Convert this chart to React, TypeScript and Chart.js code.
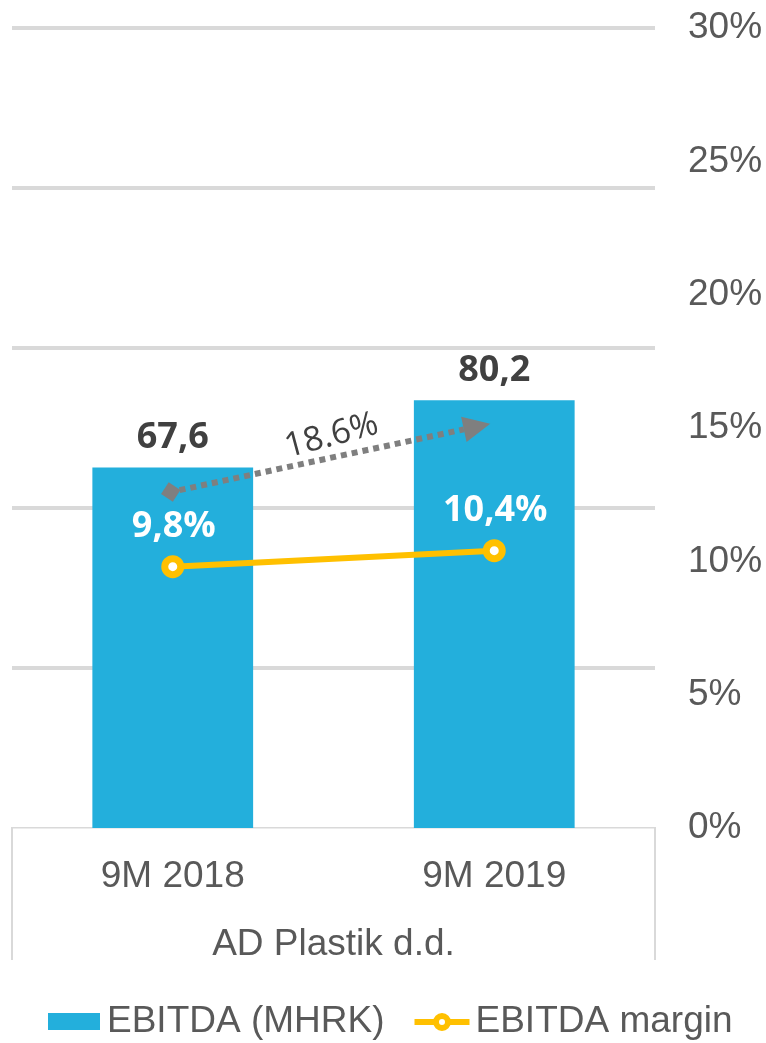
import React, { useEffect, useRef } from "react";
import { Chart, registerables } from "chart.js";

Chart.register(...registerables);

const categories = ["9M 2018", "9M 2019"];
const groupLabel = "AD Plastik d.d.";
const ebitdaValues = [67.6, 80.2];
const marginValues = [0.098, 0.104];
const ebitdaLabels = ["67,6", "80,2"];
const marginLabels = ["9,8%", "10,4%"];
const growthLabel = "18.6%";
const growthFrom = 63; // arrow start, in MHRK axis units (at first category)
const growthTo = 75.8; // arrow end, in MHRK axis units (at second category)
const legendLabels = ["EBITDA (MHRK)", "EBITDA margin"];

const BLUE = "#23AFDC";
const YELLOW = "#FFC000";
const GRID = "#D9D9D9";
const TEXT = "#595959";
const DARK = "#404040";
const ARROW = "#7F7F7F";

const overlayPlugin = {
  id: "overlay",
  afterDraw(chart: any) {
    const { ctx, chartArea, scales } = chart;
    const x = scales.x;
    const y = scales.y;
    const y1 = scales.y1;
    ctx.save();

    // category box side lines
    ctx.strokeStyle = GRID;
    ctx.lineWidth = 2;
    ctx.beginPath();
    ctx.moveTo(chartArea.left, chartArea.bottom);
    ctx.lineTo(chartArea.left, x.bottom);
    ctx.moveTo(chartArea.right, chartArea.bottom);
    ctx.lineTo(chartArea.right, x.bottom);
    ctx.stroke();

    // growth arrow
    const x0 = x.getPixelForValue(0) - 2;
    const yA = y.getPixelForValue(growthFrom);
    const x1 = x.getPixelForValue(1) - 4;
    const yB = y.getPixelForValue(growthTo);
    const ang = Math.atan2(yB - yA, x1 - x0);
    const headLen = 27;
    ctx.strokeStyle = ARROW;
    ctx.fillStyle = ARROW;
    ctx.lineWidth = 6;
    ctx.setLineDash([6, 5]);
    ctx.beginPath();
    ctx.moveTo(x0 + 9 * Math.cos(ang), yA + 9 * Math.sin(ang));
    ctx.lineTo(x1 - headLen * Math.cos(ang), yB - headLen * Math.sin(ang));
    ctx.stroke();
    ctx.setLineDash([]);
    // diamond
    ctx.save();
    ctx.translate(x0, yA);
    ctx.rotate(ang + Math.PI / 4);
    ctx.fillRect(-7, -7, 14, 14);
    ctx.restore();
    // head
    ctx.save();
    ctx.translate(x1, yB);
    ctx.rotate(ang);
    ctx.beginPath();
    ctx.moveTo(0, 0);
    ctx.lineTo(-headLen, -13);
    ctx.lineTo(-headLen, 13);
    ctx.closePath();
    ctx.fill();
    ctx.restore();
    // growth label
    ctx.save();
    ctx.translate((x0 + x1) / 2 + 1, (yA + yB) / 2 - 22);
    ctx.rotate((-15 * Math.PI) / 180);
    ctx.font = "34px 'Open Sans'";
    ctx.fillStyle = DARK;
    ctx.textAlign = "center";
    ctx.textBaseline = "middle";
    ctx.fillText(growthLabel, 0, 0);
    ctx.restore();

    // data labels
    ctx.textAlign = "center";
    ctx.textBaseline = "middle";
    ctx.font = "bold 36px 'Open Sans'";
    ebitdaValues.forEach((v, i) => {
      ctx.fillStyle = DARK;
      ctx.fillText(ebitdaLabels[i], x.getPixelForValue(i), y.getPixelForValue(v) - 30);
    });
    marginValues.forEach((v, i) => {
      ctx.fillStyle = "#FFFFFF";
      ctx.fillText(marginLabels[i], x.getPixelForValue(i) + 1, y1.getPixelForValue(v) - 40);
    });

    // legend
    const ly = 1022;
    ctx.font = "37px 'Liberation Sans'";
    ctx.textAlign = "left";
    ctx.fillStyle = BLUE;
    let lx = 48;
    ctx.fillRect(lx, ly - 9, 52, 17);
    lx += 59;
    ctx.fillStyle = TEXT;
    ctx.fillText(legendLabels[0], lx, ly);
    lx += ctx.measureText(legendLabels[0]).width + 30;
    ctx.strokeStyle = YELLOW;
    ctx.lineWidth = 6;
    ctx.beginPath();
    ctx.moveTo(lx, ly);
    ctx.lineTo(lx + 55, ly);
    ctx.stroke();
    ctx.beginPath();
    ctx.arc(lx + 27.5, ly, 6, 0, Math.PI * 2);
    ctx.fillStyle = "#FFFFFF";
    ctx.fill();
    ctx.lineWidth = 6;
    ctx.stroke();
    lx += 61;
    ctx.fillStyle = TEXT;
    ctx.fillText(legendLabels[1], lx, ly);

    ctx.restore();
  },
};

export default function App() {
  const ref = useRef<HTMLCanvasElement | null>(null);
  useEffect(() => {
    if (!ref.current) return;
    const chart = new Chart(ref.current, {
      type: "bar",
      data: {
        labels: categories,
        datasets: [
          {
            type: "line",
            label: legendLabels[1],
            data: marginValues,
            yAxisID: "y1",
            borderColor: YELLOW,
            borderWidth: 6,
            pointRadius: 8,
            pointBorderWidth: 7,
            pointBackgroundColor: "#FFFFFF",
            pointBorderColor: YELLOW,
            order: 0,
          } as any,
          {
            type: "bar",
            label: legendLabels[0],
            data: ebitdaValues,
            yAxisID: "y",
            backgroundColor: BLUE,
            categoryPercentage: 1,
            barPercentage: 0.5,
            order: 1,
          },
        ],
      },
      options: {
        animation: false,
        responsive: true,
        maintainAspectRatio: false,
        layout: { autoPadding: false, padding: { top: 28, bottom: 83, left: 12, right: 0 } },
        plugins: { legend: { display: false }, tooltip: { enabled: false } },
        scales: {
          x: {
            grid: { display: false, drawTicks: false },
            border: { display: true, color: GRID, width: 1.5 },
            ticks: {
              color: TEXT,
              font: { family: "'Liberation Sans'", size: 37, lineHeight: 1 },
              padding: 30,
              maxRotation: 0,
            },
            title: {
              display: true,
              text: groupLabel,
              color: TEXT,
              font: { family: "'Liberation Sans'", size: 37, lineHeight: 1 },
              padding: { top: 0, bottom: -3 },
            },
            afterFit: (s: any) => {
              s.height = 132;
              s.paddingLeft = 0;
              s.paddingRight = 0;
            },
          },
          y: {
            position: "left",
            min: 0,
            max: 150,
            ticks: { display: false, stepSize: 30 },
            grid: {
              color: GRID,
              lineWidth: (c: any) => (c.tick && c.tick.value === 0 ? 0 : 4),
              drawTicks: false,
            },
            border: { display: false },
            afterFit: (s: any) => {
              s.width = 0;
              s.paddingTop = 0;
              s.paddingBottom = 0;
            },
          },
          y1: {
            position: "right",
            min: 0,
            max: 0.3,
            ticks: {
              stepSize: 0.05,
              color: TEXT,
              padding: 33,
              font: { family: "'Liberation Sans'", size: 37 },
              callback: (v: any) => `${Math.round(Number(v) * 100)}%`,
            },
            grid: { display: false, drawTicks: false },
            border: { display: false },
            afterFit: (s: any) => {
              s.width = 111;
              s.paddingTop = 0;
              s.paddingBottom = 0;
            },
          },
        },
      },
      plugins: [overlayPlugin],
    });
    return () => chart.destroy();
  }, []);
  return (
    <div style={{ position: "absolute", left: 0, top: 0, width: 766, height: 1043 }}>
      <canvas ref={ref} />
    </div>
  );
}
